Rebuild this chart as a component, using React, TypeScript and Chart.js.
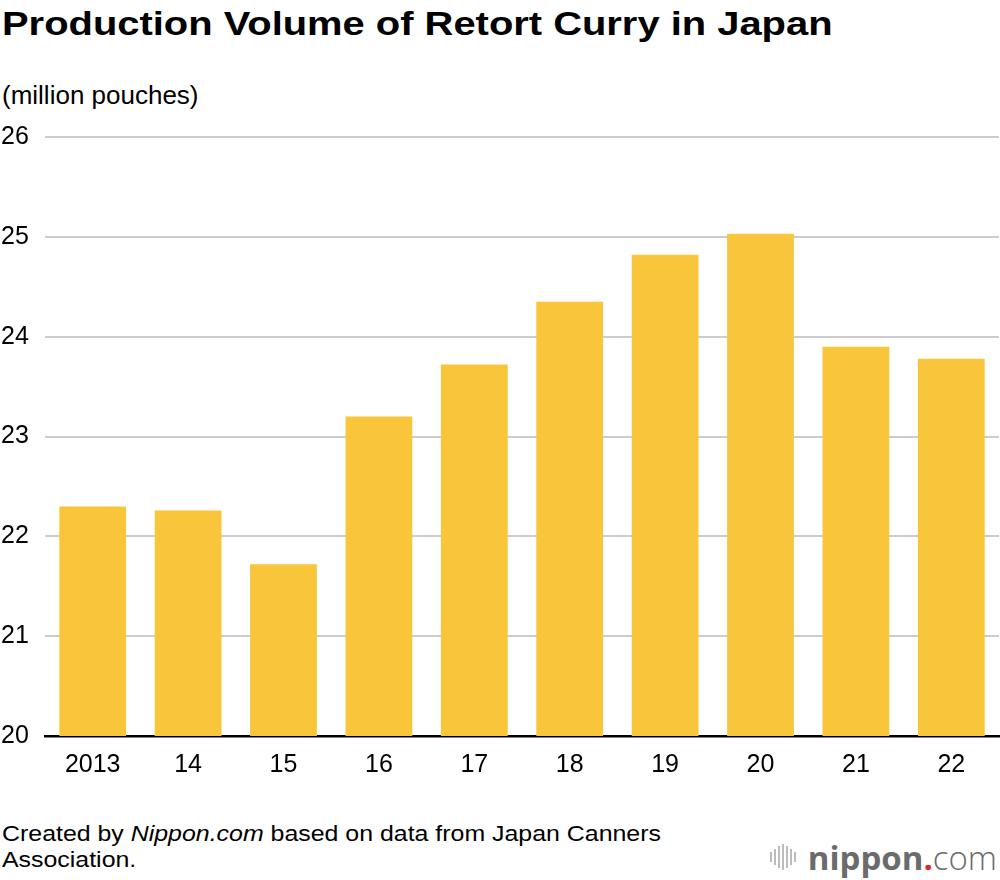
import React, { useEffect, useRef } from 'react';
import { Chart, registerables } from 'chart.js';

Chart.register(...registerables);

const years = ['2013', '14', '15', '16', '17', '18', '19', '20', '21', '22'];
const volumes = [22.3, 22.26, 21.72, 23.2, 23.72, 24.35, 24.82, 25.03, 23.9, 23.78];
const yMin = 20;
const yMax = 26;

const FONT = '"Liberation Sans", Arial, Helvetica, sans-serif';
const barColor = '#F8C53B';

const Logo: React.FC = () => {
  const lines = [10, 16, 22, 26, 22, 16, 10];
  return (
    <div style={{ position: 'absolute', right: 3, top: 840, display: 'flex', alignItems: 'center', height: 34 }}>
      <div style={{ display: 'flex', alignItems: 'center', marginRight: 10 }}>
        {lines.map((h, i) => (
          <div key={i} style={{ width: 2, height: h, background: '#bbb', marginRight: 2 }} />
        ))}
      </div>
      <span style={{ fontFamily: '"Open Sans", sans-serif', fontSize: 33, lineHeight: 1, color: '#6b6b6b' }}>
        <span style={{ fontWeight: 700 }}>nippon</span>
        <span style={{ color: '#e8202a', fontWeight: 700 }}>.</span>
        <span style={{ fontWeight: 300 }}>com</span>
      </span>
    </div>
  );
};

export default function App() {
  const chartRef = useRef<HTMLCanvasElement>(null);
  const chartInstanceRef = useRef<Chart | null>(null);

  useEffect(() => {
    document.body.style.margin = '0';
    if (!chartRef.current) return;
    const ctx = chartRef.current.getContext('2d');
    if (!ctx) return;

    chartInstanceRef.current = new Chart(ctx, {
      type: 'bar',
      data: {
        labels: years,
        datasets: [{
          label: 'Production volume',
          data: volumes,
          backgroundColor: barColor,
          borderWidth: 0,
          categoryPercentage: 1,
          barPercentage: 0.7,
        }],
      },
      options: {
        animation: false,
        responsive: false,
        maintainAspectRatio: false,
        layout: { padding: { left: 1, right: 1, top: 0, bottom: 0 } },
        plugins: {
          legend: { display: false },
          tooltip: { enabled: false },
        },
        scales: {
          x: {
            grid: { display: false, drawTicks: false },
            border: { display: true, color: '#000', width: 2.5 },
            ticks: {
              color: '#000',
              font: { size: 25, family: FONT },
              padding: 14,
              maxRotation: 0,
            },
            afterFit: (s: any) => { s.height = 52; },
          },
          y: {
            min: yMin,
            max: yMax,
            grid: { color: '#cccccc', lineWidth: 2, drawTicks: false },
            border: { display: false },
            ticks: {
              stepSize: 1,
              color: '#000',
              crossAlign: 'far',
              padding: 0,
              font: { size: 25, family: FONT },
            },
            afterFit: (s: any) => { s.width = 44; },
          },
        },
      },
    });

    return () => {
      chartInstanceRef.current?.destroy();
      chartInstanceRef.current = null;
    };
  }, []);

  return (
    <div style={{ position: 'relative', width: 1000, height: 880, background: '#fff', fontFamily: FONT, color: '#000', overflow: 'hidden' }}>
      <div style={{ position: 'absolute', left: 2, top: 7, fontSize: 33, fontWeight: 700, lineHeight: 1, whiteSpace: 'nowrap', transform: 'scaleX(1.209)', transformOrigin: 'left top' }}>
        Production Volume of Retort Curry in Japan
      </div>
      <div style={{ position: 'absolute', left: 2, top: 82, fontSize: 26, lineHeight: 1, whiteSpace: 'nowrap' }}>
        (million pouches)
      </div>
      <canvas
        ref={chartRef}
        width={1000}
        height={666}
        style={{ position: 'absolute', left: 0, top: 122, width: 1000, height: 666 }}
        aria-label="Production Volume of Retort Curry in Japan bar chart"
        role="img"
      />
      <div style={{ position: 'absolute', left: 2, top: 821, fontSize: 22, lineHeight: '26px', whiteSpace: 'nowrap', transform: 'scaleX(1.132)', transformOrigin: 'left top' }}>
        Created by <i>Nippon.com</i> based on data from Japan Canners<br />Association.
      </div>
      <Logo />
    </div>
  );
}
